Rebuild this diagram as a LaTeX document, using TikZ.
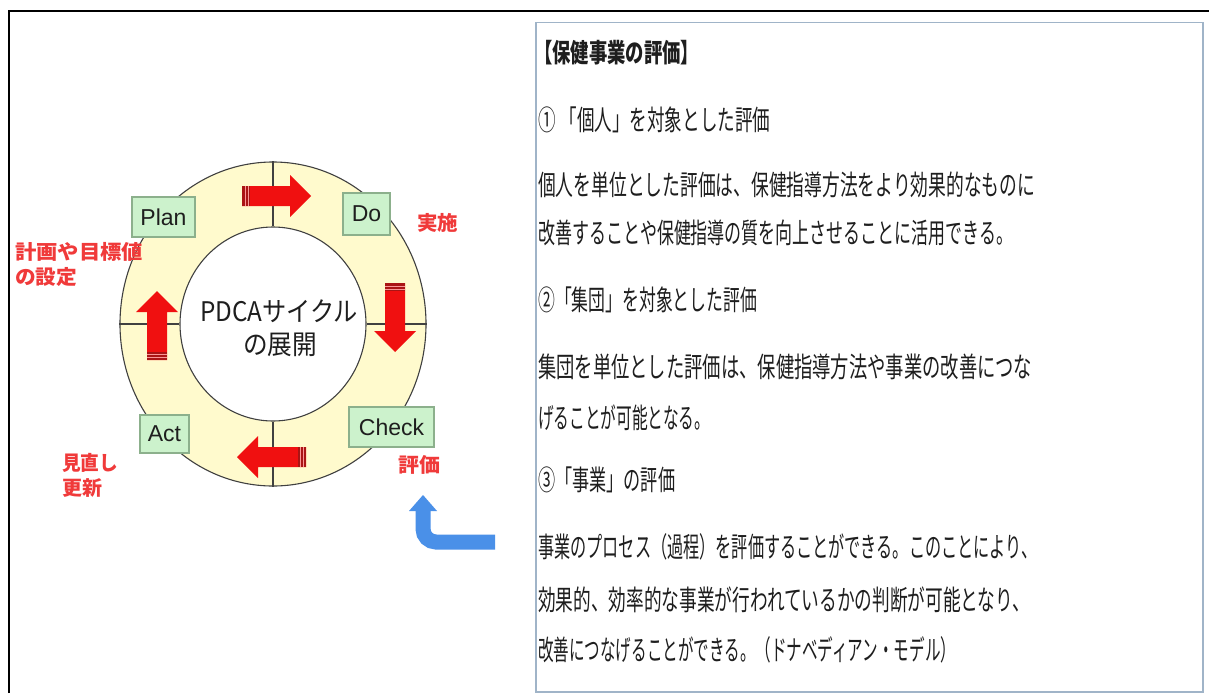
\documentclass[tikz,border=0pt]{standalone}
\usepackage{fontspec}
\usepackage{graphicx}
\usetikzlibrary{shapes.geometric}
\newfontfamily\jp{Noto Sans CJK JP}
\newfontfamily\arialf{Liberation Sans}
\definecolor{ringyellow}{RGB}{255,250,205}
\definecolor{ringline}{RGB}{64,64,64}
\definecolor{boxgreen}{RGB}{204,242,204}
\definecolor{boxedge}{RGB}{140,176,140}
\definecolor{arrred}{RGB}{240,16,16}
\definecolor{arrdark}{RGB}{170,20,20}
\definecolor{arrlight}{RGB}{250,150,150}
\definecolor{labred}{RGB}{240,58,58}
\definecolor{textgray}{RGB}{30,30,30}
\definecolor{boxblue}{RGB}{160,180,200}
\definecolor{bluearrow}{RGB}{74,144,232}
\begin{document}
\begin{tikzpicture}[x=1pt,y=-1pt,
  pdcabox/.style={draw=boxedge,fill=boxgreen,line width=1.2pt,inner sep=0,
    font=\arialf\fontsize{23}{23}\selectfont,text=textgray},
  redlabel/.style={anchor=west,inner sep=0,text=labred,
    font=\jp\bfseries\fontsize{20}{20}\selectfont},
  bodytext/.style={anchor=west,inner sep=0,text=textgray,
    font=\jp\fontsize{28}{28}\selectfont},
  centertext/.style={inner sep=0,text=textgray,
    font=\jp\fontsize{27}{27}\selectfont},
  pdcaarrow/.pic={
    \fill[arrred] (0,-10) -- (48,-10) -- (48,-21) -- (69,0) -- (48,21) -- (48,10) -- (0,10) -- cycle;
    \fill[arrdark] (0,-10) rectangle (8,10);
    \draw[arrlight,line width=0.8pt] (3,-10) -- (3,10) (6,-10) -- (6,10);
  }]
\useasboundingbox (0,0) rectangle (1209,693);
\fill[white] (0,0) rectangle (1209,693);
% outer frame
\draw[line width=2pt,black] (9,693) -- (9,11) -- (1209,11);

% ring
\node (outer) [ellipse,draw=ringline,fill=ringyellow,line width=1.1pt,inner sep=0,
  minimum width=306,minimum height=324] at (273,324) {};
\node (inner) [ellipse,draw=ringline,fill=white,line width=1.1pt,inner sep=0,
  minimum width=186,minimum height=194] at (273,324) {};
\draw[ringline,line width=1.1pt] (outer.north) -- (inner.north);
\draw[ringline,line width=1.1pt] (outer.south) -- (inner.south);
\draw[ringline,line width=1.1pt] (outer.west) -- (inner.west);
\draw[ringline,line width=1.1pt] (outer.east) -- (inner.east);

% red arrows
\pic at (242,196) {pdcaarrow};
\pic[rotate=-90] at (395,283) {pdcaarrow};
\pic[rotate=180] at (306,457) {pdcaarrow};
\pic[rotate=90] at (157,360) {pdcaarrow};

% boxes
\node (plan) [pdcabox,minimum width=63,minimum height=40] at (163.5,217) {Plan};
\node (do) [pdcabox,minimum width=47,minimum height=42] at (366.5,214) {Do};
\node (check) [pdcabox,minimum width=85,minimum height=40] at (391.5,427) {Check};
\node (act) [pdcabox,minimum width=49,minimum height=38] at (164.5,434) {Act};

% center text
\node (c1) [centertext] at (279,311) {\resizebox{158pt}{\height}{PDCAサイクル}};
\node (c2) [centertext] at (280,345) {\resizebox{74pt}{\height}{の展開}};

% red labels
\node (l1) [redlabel] at (15,252) {\resizebox{128pt}{\height}{計画や目標値}};
\node (l2) [redlabel] at (15,277) {\resizebox{62pt}{\height}{の設定}};
\node (l3) [redlabel] at (417,223) {\resizebox{41pt}{\height}{実施}};
\node (l4) [redlabel] at (398,465) {\resizebox{42pt}{\height}{評価}};
\node (l5) [redlabel] at (62,463) {\resizebox{56pt}{\height}{見直し}};
\node (l6) [redlabel] at (62,488) {\resizebox{40pt}{\height}{更新}};

% blue arrow
\coordinate (bstart) at (495,542);
\coordinate (bbend) at (423,542);
\coordinate (bhead) at (423,509);
\draw[bluearrow,line width=15pt,rounded corners=13pt] (bstart) -- (bbend) -- (bhead);
\fill[bluearrow] (409,511) -- (423,495) -- (437,511) -- cycle;

% text box
\node (tbox) [draw=boxblue,fill=white,line width=1.5pt,inner sep=0,anchor=north west,
  minimum width=667,minimum height=669] at (535,22) {};
\node (t1) [bodytext,font=\jp\bfseries\fontsize{26}{26}\selectfont] at (534,53) {\resizebox{165pt}{\height}{【保健事業の評価】}};
\node (t2) [bodytext] at (538,120) {\resizebox{232pt}{\height}{①\ 「個人」を対象とした評価}};
\node (t3) [bodytext] at (538,185) {\resizebox{497pt}{\height}{個人を単位とした評価は、保健指導方法をより効果的なものに}};
\node (t4) [bodytext] at (538,233) {\resizebox{475pt}{\height}{改善することや保健指導の質を向上させることに活用できる。}};
\node (t5) [bodytext] at (538,300) {\resizebox{219pt}{\height}{②「集団」を対象とした評価}};
\node (t6) [bodytext] at (538,367) {\resizebox{494pt}{\height}{集団を単位とした評価は、保健指導方法や事業の改善につな}};
\node (t7) [bodytext] at (538,418) {\resizebox{172pt}{\height}{げることが可能となる。}};
\node (t8) [bodytext] at (538,480) {\resizebox{137pt}{\height}{③「事業」の評価}};
\node (t9) [bodytext] at (538,547) {\resizebox{499pt}{\height}{事業のプロセス（過程）を評価することができる。このことにより、}};
\node (t10) [bodytext] at (538,600) {\resizebox{492pt}{\height}{効果的、効率的な事業が行われているかの判断が可能となり、}};
\node (t11) [bodytext] at (538,650) {\resizebox{418pt}{\height}{改善につなげることができる。（ドナベディアン・モデル）}};
\end{tikzpicture}
\end{document}
